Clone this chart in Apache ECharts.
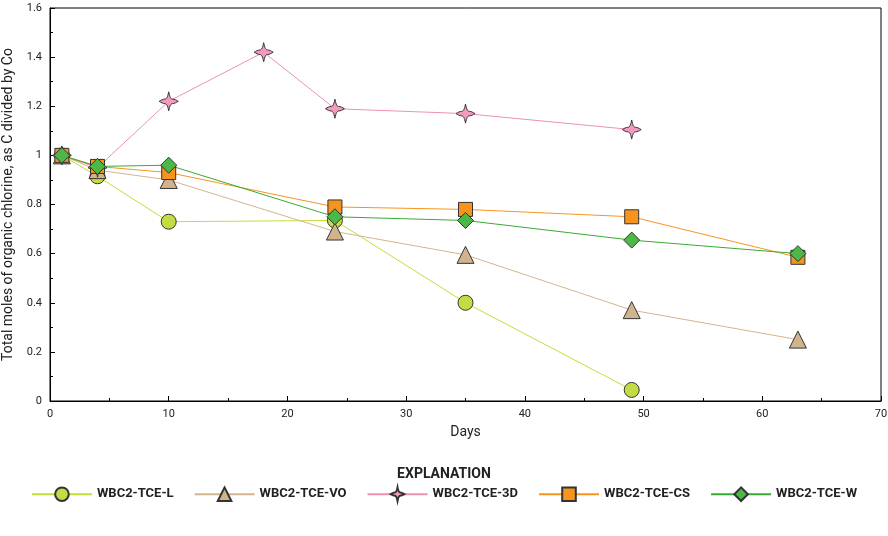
<!DOCTYPE html>
<html><head><meta charset="utf-8">
<script src="https://cdn.jsdelivr.net/npm/echarts@6/dist/echarts.min.js"></script>
<style>html,body{margin:0;background:#fff}#c{width:888px;height:536px}</style>
</head><body><div id="c"></div>
<script>
var names = ['WBC2-TCE-L', 'WBC2-TCE-VO', 'WBC2-TCE-3D', 'WBC2-TCE-CS', 'WBC2-TCE-W'];
var daysL = [1, 4, 10, 24, 35, 49];
var valsL = [1.0, 0.915, 0.73, 0.735, 0.40, 0.045];
var daysVO = [1, 4, 10, 24, 35, 49, 63];
var valsVO = [1.0, 0.94, 0.90, 0.69, 0.595, 0.37, 0.25];
var days3D = [1, 4, 10, 18, 24, 35, 49];
var vals3D = [1.0, 0.95, 1.22, 1.42, 1.19, 1.17, 1.105];
var daysCS = [1, 4, 10, 24, 35, 49, 63];
var valsCS = [1.0, 0.955, 0.93, 0.79, 0.78, 0.75, 0.585];
var daysW = [1, 4, 10, 24, 35, 49, 63];
var valsW = [1.0, 0.955, 0.96, 0.75, 0.735, 0.655, 0.60];

var font = '"Liberation Sans Narrow", "Roboto", sans-serif';
// fat four-pointed star
var star = 'path://M50,0 C56,30 62,38 70,38 C80,38 90,44 100,50 C90,56 80,62 70,62 C62,62 56,70 50,100 C44,70 38,62 30,62 C20,62 10,56 0,50 C10,44 20,38 30,38 C38,38 44,30 50,0 Z';

function pairs(x, y) { return x.map(function (d, i) { return [d, y[i]]; }); }
function mk(name, x, y, line, fill, symbol, size) {
    return {
        name: name, type: 'line', data: pairs(x, y), symbol: symbol, symbolSize: size,
        lineStyle: { color: line, width: 1 },
        itemStyle: { color: fill, borderColor: '#333', borderWidth: 1 },
        emphasis: { disabled: true }
    };
}

var myChart = echarts.init(document.getElementById('c'));
var option = {
    animation: false,
    textStyle: { fontFamily: font },
    grid: { left: 50, right: 7, top: 8, bottom: 135, outerBoundsMode: 'none', containLabel: false },
    title: {
        text: 'EXPLANATION', left: 'center', top: 462,
        textStyle: { fontFamily: font, fontSize: 14, fontWeight: 'bold', color: '#222' }
    },
    legend: {
        bottom: 29, left: 'center', itemWidth: 60, itemHeight: 17, itemGap: 20,
        textStyle: { fontFamily: font, fontSize: 13, fontWeight: 'bold', color: '#222' },
        data: names
    },
    xAxis: {
        type: 'value', min: 0, max: 70, interval: 10,
        name: 'Days', nameLocation: 'middle', nameGap: 24,
        nameTextStyle: { fontSize: 14, color: '#222', fontFamily: font },
        axisLine: { lineStyle: { color: '#000' } },
        axisTick: { inside: true, length: 5, lineStyle: { color: '#000' } },
        minorTick: { show: true, splitNumber: 2, length: 3, lineStyle: { color: '#000' } },
        axisLabel: { color: '#222', fontSize: 11 },
        splitLine: { show: false }
    },
    yAxis: {
        type: 'value', min: 0, max: 1.6, interval: 0.2,
        name: 'Total moles of organic chlorine, as C divided by Co', nameLocation: 'middle', nameGap: 32,
        nameTextStyle: { fontSize: 14, color: '#222', fontFamily: font },
        axisLine: { show: true, lineStyle: { color: '#000' } },
        axisTick: { show: true, inside: true, length: 5, lineStyle: { color: '#000' } },
        minorTick: { show: true, splitNumber: 2, length: 3, lineStyle: { color: '#000' } },
        axisLabel: { color: '#222', fontSize: 11 },
        splitLine: { show: false }
    },
    series: [
        mk(names[0], daysL, valsL, '#c3dc3a', '#c4dc44', 'circle', 15),
        mk(names[1], daysVO, valsVO, '#d4b48e', '#d2b48c', 'triangle', 17),
        mk(names[2], days3D, vals3D, '#ee8fb6', '#f49ac1', star, 19),
        mk(names[3], daysCS, valsCS, '#f7941d', '#f7941d', 'rect', 14),
        mk(names[4], daysW, valsW, '#3aaa35', '#4cb848', 'diamond', 16)
    ],
    graphic: [{ type: 'rect', shape: { x: 50, y: 8, width: 831, height: 393 }, style: { fill: 'none', stroke: '#000', lineWidth: 1 }, silent: true }]
};
myChart.setOption(option);
</script></body></html>
